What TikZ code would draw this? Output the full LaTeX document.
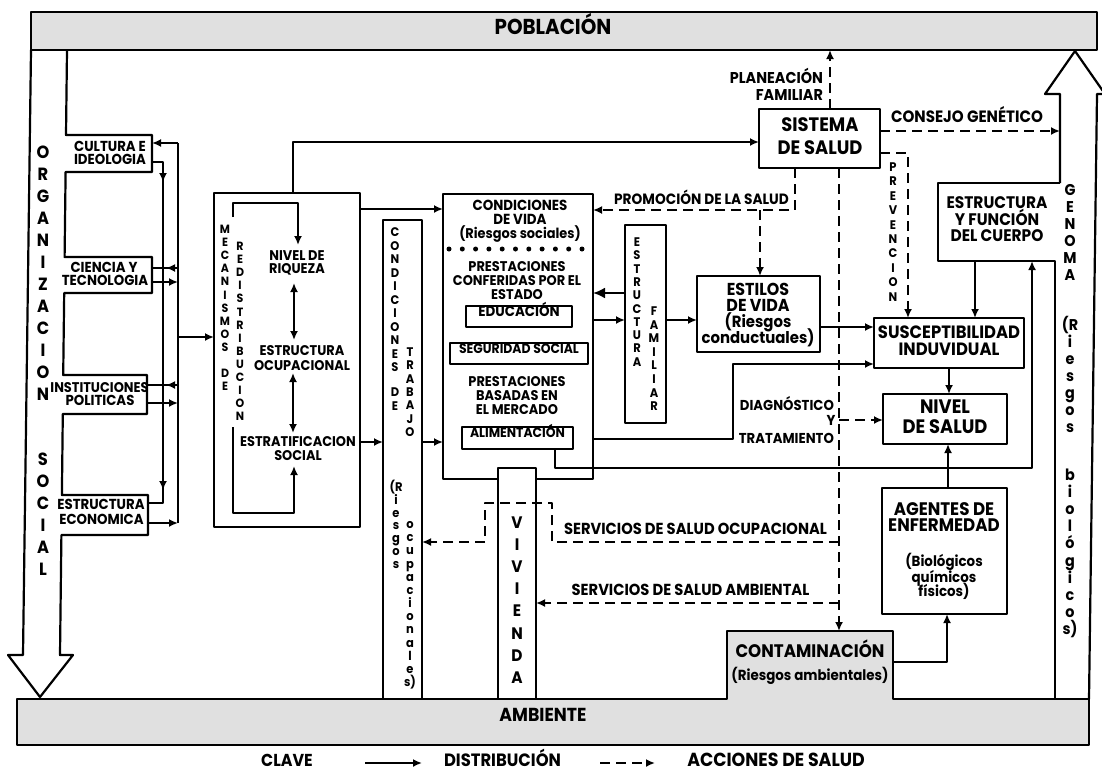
\documentclass[tikz,border=0pt]{standalone}
\usepackage{fontspec}
\setmainfont{Poppins}[FakeStretch=0.92]
\usetikzlibrary{arrows.meta,fit}
\definecolor{bargray}{RGB}{224,224,224}
\tikzset{
  every node/.style={inner sep=0pt},
  ln/.style={inner sep=0pt, text height=0.7em, text depth=0pt, anchor=center},
  f/.code={\pgfmathsetmacro\fsz{#1*1.08}\tikzset{font={\fontsize{\fsz}{\fsz}\selectfont\bfseries}}},
  fv/.code={\pgfmathsetmacro\fsz{#1*1.04}\tikzset{font={\fontsize{\fsz}{\fsz}\selectfont\bfseries}}},
  bx/.style={draw, line width=2.2pt},
  arr/.style={-{Latex[length=9pt,width=8pt]}},
  darr/.style={{Latex[length=9pt,width=8pt]}-{Latex[length=9pt,width=8pt]}},
  bigarr/.style={-{Latex[length=12pt,width=11pt]}},
  dsh/.style={dash pattern=on 10pt off 6pt},
}
\newcommand\vstack[6]{\foreach \ch [count=\ci from 0] in {#6}{\node[ln, fv=#5] (#1\ci) at (#2,{#3+\ci*#4}) {\ch};}}
\newcommand\lparR{(R}
\begin{document}
\begin{tikzpicture}[x=1pt,y=-1pt,line width=2.2pt,line join=round]
\useasboundingbox (0,0) rectangle (1102,771);

% ---------- bars
\node[bx, fill=bargray, fit={(31,12) (1097,50)}] (pob) {};
\node[ln, f=20] (pobt) at (553,31) {POBLACIÓN};
\draw[fill=bargray] (17,699) -- (727,699) -- (727,631) -- (893,631) -- (893,699) -- (1089,699) -- (1089,745) -- (17,745) -- cycle;
\node[ln, f=17.4] (amb) at (543,718) {AMBIENTE};
\node[ln, f=16.8] (cont1) at (810,654) {CONTAMINACIÓN};
\node[ln, f=13.5] (cont2) at (810,677) {(Riesgos ambientales)};

% ---------- organizacion social arrow with tabs
\draw (31,50) -- (23,655) -- (8,655) -- (40,697) -- (73,655) -- (60,655) -- (61.4,535) -- (148,535) -- (148,495) -- (61.9,495) -- (62.8,414) -- (147,414) -- (147,375) -- (63.2,375) -- (64.2,293) -- (152,293) -- (152,257) -- (64.6,257) -- (65.6,172) -- (152,172) -- (152,135) -- (66,135) -- (67,50);
\vstack{org}{43}{155}{22}{17}{O,R,G,A,N,I,Z,A,C,I,O,N}
\vstack{soc}{43}{462}{22}{17}{S,O,C,I,A,L}
\node[ln, f=13.4] (cul1) at (110,148) {CULTURA E};
\node[ln, f=13.4] (cul2) at (110,161) {IDEOLOGIA};
\node[ln, f=13.4] (cie1) at (104,269) {CIENCIA Y};
\node[ln, f=13.4] (cie2) at (105,282) {TECNOLOGIA};
\node[ln, f=13] (ins1) at (99.5,389) {INSTITUCIONES};
\node[ln, f=13.4] (ins2) at (100,402) {POLITICAS};
\node[ln, f=13.4] (eco1) at (101,506) {ESTRUCTURA};
\node[ln, f=13.4] (eco2) at (101.5,521) {ECONOMICA};

\draw (152,162) -- (163,162) -- (163,503) -- (148,503);
\draw[arr] (163,168) -- (163,182);
\draw[arr] (163,476) -- (163,490);
\draw (178,143) -- (178,523);
\draw[arr] (178,143) -- (152,143);
\draw (178,268) -- (152,268);
\draw[arr] (178,268) -- (166,268);
\draw[arr] (152,282) -- (178,282);
\draw (178,385) -- (147,385);
\draw[arr] (178,385) -- (166,385);
\draw[arr] (147,403) -- (178,403);
\draw[arr] (148,523) -- (178,523);
\draw[arr] (178,337) -- (214,337);

% ---------- mecanismos de redistribucion
\node[bx, fit={(214,193) (360,527)}] (mec) {};
\draw[arr] (233,217) -- (233,203) -- (298,203) -- (298,245);
\draw[arr] (233,427) -- (233,513) -- (294,513) -- (294,466);
\draw[darr] (294,283) -- (294,340);
\draw[darr] (293,373) -- (293,433);
\vstack{mc}{225}{230}{13.1}{11.5}{M,E,C,A,N,I,S,M,O,S}
\vstack{mcd}{225}{374}{13.1}{11.5}{D,E}
\vstack{red}{240}{247}{13.1}{11.5}{R,E,D,I,S,T,R,I,B,U,C,I,O,N}
\node[ln, f=13] (nr1) at (297,257) {NIVEL DE};
\node[ln, f=13] (nr2) at (297,270) {RIQUEZA};
\node[ln, f=13] (eo1) at (302,352) {ESTRUCTURA};
\node[ln, f=13] (eo2) at (302,367) {OCUPACIONAL};
\node[ln, f=13] (es1) at (298,443) {ESTRATIFICACION};
\node[ln, f=13] (es2) at (298,457) {SOCIAL};

\draw[arr] (293,193) -- (293,142) -- (759,142);
\draw[arr] (360,209) -- (443,209);
\draw[arr] (360,442) -- (383,442);
\draw[arr] (422,442) -- (443,442);

% ---------- condiciones de trabajo
\node[bx, fit={(383,220) (422,699)}] (ctr) {};
\vstack{ct}{395}{233}{13.5}{12}{C,O,N,D,I,C,I,O,N,E,S}
\vstack{ctd}{395}{393}{14}{12}{D,E}
\vstack{ctt}{410}{353}{13.3}{12}{T,R,A,B,A,J,O}
\vstack{ctr}{396}{488}{12.8}{12}{\lparR,i,e,s,g,o,s}
\vstack{cto}{410}{525}{13.17}{12}{o,c,u,p,a,c,i,o,n,a,l,e,s)}

% ---------- condiciones de vida / prestaciones
\node[bx, fit={(443,194) (593,479)}] (cv) {};
\draw[line width=5pt, line cap=round, dash pattern=on 0pt off 13.3pt] (449,249) -- (593,249);
\node[ln, f=13.5] (cv1) at (520,207) {CONDICIONES};
\node[ln, f=13.5] (cv2) at (520,221) {DE VIDA};
\node[ln, f=13] (cv3) at (520,235) {(Riesgos sociales)};
\node[ln, f=13] (pe1) at (517,268) {PRESTACIONES};
\node[ln, f=13] (pe2) at (517,282) {CONFERIDAS POR EL};
\node[ln, f=13] (pe3) at (517,296) {ESTADO};
\node[bx, ln, f=13.5, fit={(466,306) (572,327)}] (edu) {EDUCACIÓN};
\node[bx, ln, f=12.5, fit={(450,343) (588,364)}] (seg) {SEGURIDAD SOCIAL};
\node[ln, f=13] (pm1) at (517,383) {PRESTACIONES};
\node[ln, f=13] (pm2) at (517,397) {BASADAS EN};
\node[ln, f=13] (pm3) at (517,411) {EL MERCADO};
\node[bx, ln, f=12.5, fit={(462,427) (573,449)}] (ali) {ALIMENTACIÓN};

% ---------- vivienda
\node[bx, fill=white, fit={(498,468) (536,699)}] (viv) {};
\vstack{vi}{517}{525}{22.1}{16}{V,I,V,I,E,N,D,A}

% ---------- estructura familiar
\node[bx, fit={(625,225) (666,423)}] (ef) {};
\vstack{efe}{637}{243}{13.3}{12}{E,S,T,R,U,C,T,U,R,A}
\vstack{eff}{654}{312}{13.6}{12}{F,A,M,I,L,I,A,R}
\draw[bigarr] (625,293) -- (593,293);
\draw[arr] (593,320) -- (625,320);
\draw[arr] (666,320) -- (697,320);

% ---------- estilos de vida
\node[bx, fit={(697,276) (820,352)}] (est) {};
\node[ln, f=16] (est1) at (758,292) {ESTILOS};
\node[ln, f=16] (est2) at (758,308) {DE VIDA};
\node[ln, f=15] (est3) at (758,324) {(Riesgos};
\node[ln, f=15] (est4) at (758,340) {conductuales)};
\draw[arr] (820,327) -- (874,327);

% ---------- sistema de salud
\node[bx, fit={(759,109) (880,168)}] (sis) {};
\node[ln, f=18] (sis1) at (820,128) {SISTEMA};
\node[ln, f=18] (sis2) at (820,151) {DE SALUD};

\draw[dsh, arr] (795,168) -- (795,210) -- (593,210);
\draw[dsh, arr] (760,210) -- (760,276);
\node[ln, f=13.8] (prom) at (701.5,201) {PROMOCIÓN DE LA SALUD};

\draw[dsh, arr] (830,109) -- (830,50);
\node[ln, f=14.5, anchor=east] (pl1) at (824,80) {PLANEACIÓN};
\node[ln, f=14.5, anchor=east] (pl2) at (824,97) {FAMILIAR};

\draw[dsh, arr] (880,131) -- (1060,131);
\node[ln, f=15.2] (cons) at (967,119) {CONSEJO GENÉTICO};

\draw[dsh, arr] (880,153) -- (908,153) -- (908,318);
\vstack{pre}{893}{168}{14.4}{12}{P,R,E,V,E,N,C,I,O,N}

\draw[dsh, arr] (839,168) -- (839,631);
\draw[dsh, arr] (839,420) -- (883,420);
\node[ln, f=13.3, anchor=east] (dg1) at (835,407) {DIAGNÓSTICO};
\node[ln, f=13.3] (dg2) at (831,422) {Y};
\node[ln, f=13.3, anchor=east] (dg3) at (835,440) {TRATAMIENTO};

\draw[dsh, arr] (839,542) -- (552,542) -- (552,503) -- (485,503) -- (485,542) -- (422,542);
\node[ln, f=14.8] (socu) at (695.5,531) {SERVICIOS DE SALUD OCUPACIONAL};
\draw[dsh, arr] (839,603) -- (536,603);
\node[ln, f=14.8] (samb) at (690.5,592) {SERVICIOS DE SALUD AMBIENTAL};

% ---------- susceptibilidad, nivel, agentes
\node[bx, fit={(874,318) (1024,368)}] (sus) {};
\node[ln, f=16.5] (sus1) at (949,335) {SUSCEPTIBILIDAD};
\node[ln, f=16.5] (sus2) at (949,352) {INDUVIDUAL};
\node[bx, fit={(883,394) (1007,444)}] (niv) {};
\node[ln, f=18] (niv1) at (945,410) {NIVEL};
\node[ln, f=18] (niv2) at (945,430) {DE SALUD};
\draw[arr] (949,368) -- (949,394);
\node[bx, fit={(882,488) (1007,614)}] (age) {};
\node[ln, f=16.8] (age1) at (944,512) {AGENTES DE};
\node[ln, f=16.8] (age2) at (944,528) {ENFERMEDAD};
\node[ln, f=13.5] (age3) at (944,563) {(Biológicos};
\node[ln, f=13.5] (age4) at (944,579) {químicos};
\node[ln, f=13.5] (age5) at (944,593) {físicos)};
\draw[arr] (948,488) -- (948,444);
\draw[arr] (893,662) -- (947,662) -- (947,614);

% ---------- estructura y funcion del cuerpo + genoma
\draw (1060,183) -- (938,183) -- (938,261) -- (1055,261) -- (1055,699);
\node[ln, f=15.5] (ef1) at (997,205) {ESTRUCTURA};
\node[ln, f=15.5] (ef2) at (997,222) {Y FUNCIÓN};
\node[ln, f=15.5] (ef3) at (997,238) {DEL CUERPO};
\draw[arr] (975,261) -- (975,318);
\draw[arr] (555,449) -- (555,468) -- (1032,468) -- (1032,261);
\draw[arr] (593,439) -- (733,439) -- (733,364) -- (874,364);
\draw (1060,183) -- (1060,94) -- (1045,94) -- (1075,51) -- (1105,94) -- (1097,94) -- (1089,699);
\vstack{gen}{1070}{192}{17}{15}{G,E,N,O,M,A}
\vstack{gri}{1070}{327}{17}{15}{\lparR,i,e,s,g,o,s}
\vstack{gbi}{1070}{477}{17.1}{15}{b,i,o,l,ó,g,i,c,o,s)}

% ---------- legend
\node[ln, f=16] (clave) at (287,763) {CLAVE};
\draw[arr] (365,763) -- (422,763);
\node[ln, f=16.5] (ldis) at (502.5,763) {DISTRIBUCIÓN};
\draw[dsh, arr] (600,763) -- (655,763);
\node[ln, f=17.5] (lacc) at (776,763) {ACCIONES DE SALUD};
\end{tikzpicture}
\end{document}
